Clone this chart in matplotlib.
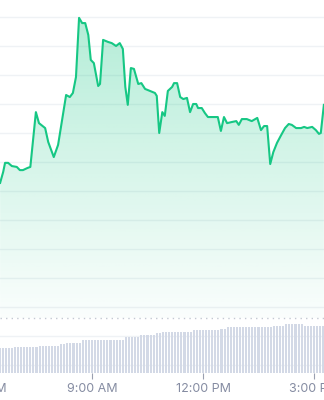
# Intraday price chart with gradient fill and volume bars underneath
import numpy as np
import matplotlib
matplotlib.use('Agg')
import matplotlib.pyplot as plt
from matplotlib.transforms import blended_transform_factory

# Price series: time as minutes after midnight, price in chart units
price_minutes = [391, 396, 399, 404, 410, 418, 423, 428, 435, 440,
                 449, 454, 464, 469, 478, 485, 498, 504, 509, 514,
                 519, 524, 529, 534, 538, 543, 550, 553, 558, 566,
                 572, 579, 585, 590, 594, 598, 603, 608, 615, 620,
                 626, 634, 642, 645, 649, 654, 658, 663, 670, 673,
                 678, 683, 688, 694, 699, 704, 709, 712, 718, 723,
                 728, 733, 739, 744, 749, 754, 759, 767, 774, 778,
                 783, 791, 799, 808, 814, 819, 824, 829, 834, 840,
                 846, 853, 859, 864, 871, 879, 884, 889, 897, 903,
                 908, 911, 916]
price_values = [5.28, 5.66, 5.97, 5.97, 5.86, 5.83, 5.72, 5.72, 5.79, 5.83,
                7.72, 7.34, 7.17, 6.69, 6.17, 6.59, 8.31, 8.24, 8.38, 8.93,
                10.97, 10.79, 10.79, 10.38, 9.52, 9.41, 8.62, 8.69, 10.21, 10.14,
                10.10, 10.00, 10.10, 9.90, 8.59, 7.97, 9.24, 9.21, 8.69, 8.72,
                8.52, 8.45, 8.38, 8.28, 7.00, 7.72, 7.59, 8.45, 8.59, 8.72,
                8.72, 8.24, 8.17, 8.21, 7.72, 8.00, 8.00, 7.86, 7.86, 7.69,
                7.55, 7.55, 7.55, 7.55, 7.07, 7.55, 7.34, 7.38, 7.41, 7.28,
                7.48, 7.48, 7.41, 7.52, 7.10, 7.24, 7.24, 5.93, 6.34, 6.66,
                6.90, 7.17, 7.31, 7.28, 7.17, 7.17, 7.21, 7.17, 7.21, 7.10,
                6.97, 7.00, 7.97]

# Volume: one bar per 5 minutes from 6:30
volume_start = 390
volume_step = 5
volume_values = [25, 25, 25, 25, 25, 26, 26, 26, 26, 26,
                 26, 26, 26, 27, 27, 27, 27, 27, 27, 27,
                 29, 29, 30, 30, 30, 30, 30, 33, 33, 33,
                 33, 33, 33, 33, 33, 33, 33, 33, 33, 33,
                 33, 36, 36, 36, 36, 36, 38, 38, 38, 38,
                 38, 40, 40, 41, 41, 41, 41, 41, 41, 41,
                 41, 41, 41, 43, 43, 43, 43, 43, 43, 43,
                 43, 43, 44, 44, 46, 46, 46, 46, 46, 46,
                 46, 46, 46, 46, 46, 46, 46, 46, 46, 47,
                 47, 47, 47, 49, 49, 49, 49, 49, 49, 47,
                 47, 47, 47, 47, 47, 47]

tick_minutes = [360, 540, 720, 900]
tick_labels = ['6:00 AM', '9:00 AM', '12:00 PM', '3:00 PM']

line_color = '#16c784'
grid_color = '#eff2f5'
label_color = '#858ca2'

fig = plt.figure(figsize=(3.24, 4.0), dpi=100, facecolor='white')
ax = fig.add_axes([0, 27 / 400, 1, 373 / 400])
ax.set_xlim(390.8, 916.2)
ax.set_ylim(-1.276, 11.586)
for s in ax.spines.values():
    s.set_visible(False)

# horizontal grid
for g in range(-1, 12):
    ax.axhline(g, color=grid_color, lw=1.0, zorder=0)

# dotted reference line
ax.axhline(0.621, color='#c3c8d2', lw=1.0, ls=(0, (1, 3)), zorder=1)

t = np.array(price_minutes, dtype=float)
p = np.array(price_values)

# gradient fill under the line
poly = ax.fill_between(t, p, 0.621, facecolor='none', edgecolor='none')
grad = np.linspace(1, 0, 256)[:, None]
rgba = np.zeros((256, 1, 4))
rgba[..., :3] = matplotlib.colors.to_rgb(line_color)
rgba[..., 3] = 0.02 + 0.32 * grad
im = ax.imshow(rgba, extent=[390.8, 916.2, 0.621, 11.586],
               aspect='auto', origin='upper', zorder=2)
im.set_clip_path(poly.get_paths()[0], transform=ax.transData)

ax.plot(t, p, color=line_color, lw=1.5, solid_joinstyle='round', zorder=3)

# tick marks
ax.set_xticks(tick_minutes[1:])
ax.set_xticklabels([])
ax.set_yticks([])
ax.tick_params(axis='x', length=4, width=0.8, color='#9aa0b0', direction='out')

trans = blended_transform_factory(ax.transData, fig.transFigure)
for m, lab in zip(tick_minutes, tick_labels):
    ax.text(m, 1 - 388.5 / 400, lab, transform=trans, ha='center',
            va='center', fontsize=9, color=label_color, family='Inter',
            clip_on=False)

# volume bars
ax2 = ax.twinx()
vt = volume_start + volume_step * np.arange(len(volume_values))
ax2.bar(vt, volume_values, width=3.3, color='#d3d9e6', linewidth=0, zorder=2)
ax2.set_ylim(0, 373)
ax2.set_yticks([])
for s in ax2.spines.values():
    s.set_visible(False)
ax.set_xlim(390.8, 916.2)

fig.savefig('out.png', dpi=100, facecolor='white')
